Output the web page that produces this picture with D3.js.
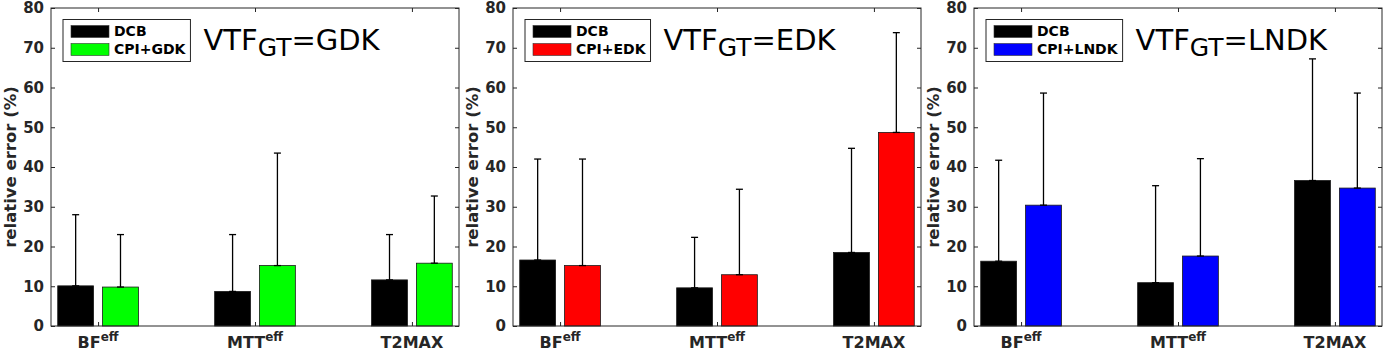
<!DOCTYPE html>
<html>
<head>
<meta charset="utf-8">
<script src="https://cdn.jsdelivr.net/npm/d3@7"></script>
<style>
  body { margin: 0; background: #fff; }
  text { font-family: "DejaVu Sans", sans-serif; }
</style>
</head>
<body>
<div id="viz_container"></div>
<script>
// data
const categories = ["BF", "MTT", "T2MAX"];
const catSup = ["eff", "eff", ""];
const kernels = ["GDK", "EDK", "LNDK"];
const kernelColors = ["#00ff00", "#ff0000", "#0000ff"];
const yTicks = [0, 10, 20, 30, 40, 50, 60, 70, 80];

// mean relative error and top of the (upper-only) error bar, one row per panel
const dcbMean  = [[10.1, 8.7, 11.6], [16.6, 9.6, 18.5], [16.3, 10.9, 36.6]];
const dcbUpper = [[28.0, 23.0, 23.0], [42.0, 22.3, 44.7], [41.7, 35.3, 67.2]];
const cpiMean  = [[9.8, 15.2, 15.8], [15.2, 12.9, 48.7], [30.4, 17.6, 34.7]];
const cpiUpper = [[23.0, 43.5, 32.7], [42.0, 34.4, 73.8], [58.6, 42.1, 58.6]];

// layout
const W = 1384, H = 353;
const panelLeft = [51, 513, 974];
const panelW = 408;
const plotTop = 8, plotBottom = 326;
const axisColor = "#262626";

const svg = d3.select("#viz_container")
    .append("svg")
    .attr("width", W)
    .attr("height", H);

// shared y scale
const y = d3.scaleLinear().domain([0, 80]).range([plotBottom, plotTop]);

kernels.forEach((k, p) => {
    const g = svg.append("g").attr("transform", `translate(${panelLeft[p]},0)`);

    const x = d3.scaleLinear().domain([0.7, 3.3]).range([0, panelW]);
    const groupW = 2 / 3.5;           // matlab grouped bar layout
    const barW = 0.8 * groupW / 2;
    const offs = [-groupW / 4, groupW / 4];

    const rows = categories.map((c, i) => ({
        i,
        series: [
            { mean: dcbMean[p][i], upper: dcbUpper[p][i], color: "#000000", off: offs[0] },
            { mean: cpiMean[p][i], upper: cpiUpper[p][i], color: kernelColors[p], off: offs[1] }
        ]
    }));

    // bars
    const bars = g.append("g").selectAll("g")
        .data(rows).join("g");

    bars.selectAll("rect")
        .data(d => d.series.map(s => ({ ...s, i: d.i })))
        .join("rect")
        .attr("x", d => x(d.i + 1 + d.off - barW / 2))
        .attr("width", d => x(d.i + 1 + d.off + barW / 2) - x(d.i + 1 + d.off - barW / 2))
        .attr("y", d => y(d.mean))
        .attr("height", d => y(0) - y(d.mean))
        .attr("fill", d => d.color)
        .attr("stroke", "#1a1a1a")
        .attr("stroke-width", 0.8);

    // error bars (upper only)
    const errs = bars.selectAll("g.err")
        .data(d => d.series.map(s => ({ ...s, i: d.i })))
        .join("g").attr("class", "err")
        .attr("stroke", "#000")
        .attr("stroke-width", 1.3);
    errs.append("line")
        .attr("x1", d => x(d.i + 1 + d.off)).attr("x2", d => x(d.i + 1 + d.off))
        .attr("y1", d => y(d.mean)).attr("y2", d => y(d.upper));
    errs.append("line")
        .attr("x1", d => x(d.i + 1 + d.off) - 3.5).attr("x2", d => x(d.i + 1 + d.off) + 3.5)
        .attr("y1", d => y(d.upper)).attr("y2", d => y(d.upper));
    errs.append("line")
        .attr("x1", d => x(d.i + 1 + d.off) - 3.5).attr("x2", d => x(d.i + 1 + d.off) + 3.5)
        .attr("y1", d => y(d.mean)).attr("y2", d => y(d.mean));

    // axes box with inward ticks
    const axL = g.append("g").call(d3.axisLeft(y).tickValues(yTicks).tickSize(-4).tickPadding(7));
    const axR = g.append("g").attr("transform", `translate(${panelW},0)`)
        .call(d3.axisRight(y).tickValues(yTicks).tickSize(-4).tickFormat(""));
    const axT = g.append("g").attr("transform", `translate(0,${plotTop})`)
        .call(d3.axisTop(x).tickValues([1, 2, 3]).tickSize(-4).tickFormat(""));
    const axB = g.append("g").attr("transform", `translate(0,${plotBottom})`)
        .call(d3.axisBottom(x).tickValues([1, 2, 3]).tickSize(-4).tickFormat(""));
    [axL, axR, axT, axB].forEach(a => {
        a.selectAll("path, line").attr("stroke", axisColor).attr("stroke-width", 1);
        a.select(".domain").attr("d", null);
    });
    g.append("rect")
        .attr("x", 0).attr("y", plotTop).attr("width", panelW).attr("height", plotBottom - plotTop)
        .attr("fill", "none").attr("stroke", axisColor).attr("stroke-width", 1);
    axL.selectAll("text")
        .attr("fill", axisColor)
        .style("font-size", "15px").style("font-weight", "bold");

    // x category labels
    const xl = g.append("g").selectAll("text")
        .data(categories).join("text")
        .attr("x", (d, i) => x(i + 1))
        .attr("y", 348)
        .attr("text-anchor", "middle")
        .attr("fill", axisColor)
        .style("font-size", "16px").style("font-weight", "bold");
    xl.append("tspan").text(d => d);
    xl.append("tspan")
        .attr("dy", -7)
        .style("font-size", "12px")
        .text((d, i) => catSup[i]);

    // y label
    g.append("text")
        .attr("transform", `translate(${-35},${(plotTop + plotBottom) / 2}) rotate(-90)`)
        .attr("text-anchor", "middle")
        .attr("fill", axisColor)
        .style("font-size", "16.5px").style("font-weight", "bold")
        .text("relative error (%)");

    // legend
    const leg = g.append("g").attr("transform", "translate(12,19.5)");
    const legBox = leg.append("rect")
        .attr("height", 42)
        .attr("fill", "#fff").attr("stroke", axisColor).attr("stroke-width", 1);
    const legItems = ["DCB", "CPI+" + k];
    const legFill = ["#000000", kernelColors[p]];
    leg.selectAll("rect.sw")
        .data(legItems).join("rect").attr("class", "sw")
        .attr("x", 8).attr("y", (d, i) => 6 + i * 18)
        .attr("width", 38).attr("height", 12)
        .attr("fill", (d, i) => legFill[i])
        .attr("stroke", "#333").attr("stroke-width", 0.6);
    const legText = leg.selectAll("text")
        .data(legItems).join("text")
        .attr("x", 51).attr("y", (d, i) => 16.5 + i * 18)
        .attr("fill", "#000")
        .style("font-size", "14px").style("font-weight", "bold")
        .text(d => d);
    const maxLen = d3.max(legText.nodes(), n => n.getComputedTextLength());
    const boxW = 51 + maxLen + 5;
    legBox.attr("width", boxW);

    // title
    const t = g.append("text")
        .attr("x", 12 + boxW + 13)
        .attr("y", 50)
        .attr("fill", "#000")
        .style("font-size", "29px");
    t.append("tspan").text("VTF");
    t.append("tspan").attr("dy", 6).style("font-size", "25px").text("GT");
    t.append("tspan").attr("dy", -6).text("=" + k);
});
</script>
</body>
</html>
